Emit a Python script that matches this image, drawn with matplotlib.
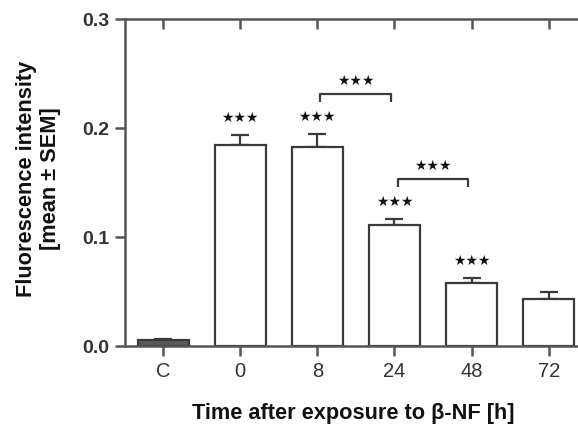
import matplotlib.pyplot as plt

plt.rcParams["font.family"] = ["Liberation Sans", "DejaVu Sans"]

# data
categories = ["C", "0", "8", "24", "48", "72"]
means = [0.0052, 0.1847, 0.1829, 0.1110, 0.0578, 0.0431]
sems = [0.0012, 0.0092, 0.0119, 0.0052, 0.0043, 0.0067]
bar_stars = ["", "★★★", "★★★", "★★★", "★★★", ""]
# pairwise comparisons: (left index, right index, bracket height, label)
pairs = [(2, 3, 0.2315, "★★★"), (3, 4, 0.153, "★★★")]

edge = "#3a3a3a"
fills = ["#5a5a5a"] + ["white"] * 5

fig = plt.figure(figsize=(5.78, 4.27), dpi=100)
ax = fig.add_axes([0.2163, 0.1874, 0.789, 0.7658])

x = list(range(len(categories)))
ax.bar(x, means, width=0.66, color=fills, edgecolor=edge, linewidth=1.6, zorder=2)
ax.errorbar(x, means, yerr=[[0] * len(sems), sems], fmt="none", ecolor=edge,
            elinewidth=1.6, capsize=6.5, capthick=1.6, zorder=1)

for i, s in enumerate(bar_stars):
    if s:
        ax.text(i, means[i] + sems[i] + 0.0165, s, ha="center", va="center",
                fontsize=10, family="DejaVu Sans", color="#111111")

for a, b, h, s in pairs:
    ax.plot([a + 0.04, a + 0.04, b - 0.04, b - 0.04], [h - 0.0075, h, h, h - 0.0075],
            color=edge, lw=1.6, solid_capstyle="butt")
    ax.text((a + b) / 2, h + 0.013, s, ha="center", va="center",
            fontsize=10, family="DejaVu Sans", color="#111111")

ax.set_xlim(-0.494, 5.42)
ax.set_ylim(0, 0.3)
ax.set_yticks([0.0, 0.1, 0.2, 0.3])
ax.set_yticklabels(["0.0", "0.1", "0.2", "0.3"], fontweight="bold", fontsize=14,
                   color="#333333")
ax.set_xticks(x)
ax.set_xticklabels(categories, fontsize=14.5, color="#333333")

for side in ["left", "bottom", "top"]:
    ax.spines[side].set_color("#555555")
    ax.spines[side].set_linewidth(1.8)
ax.spines["right"].set_visible(False)

ax.tick_params(axis="both", color="#555555", width=1.8, length=7, pad=4)
ax.tick_params(axis="x", top=False)
# top ticks point into the plot
ax2 = ax.secondary_xaxis("top")
ax2.set_xticks(x)
ax2.set_xticklabels([])
ax2.tick_params(direction="in", length=7, width=1.8, color="#555555")
ax2.spines["top"].set_visible(False)

ax.set_xlabel("Time after exposure to β-NF [h]", fontsize=15.7, fontweight="bold",
              color="#111111", labelpad=16)
fig.text(0.066, 0.582, "Fluorescence intensity\n[mean ± SEM]", rotation=90,
         ha="center", va="center", fontsize=15.7, fontweight="bold",
         color="#111111", linespacing=1.2)

fig.savefig("out.png", dpi=100)
